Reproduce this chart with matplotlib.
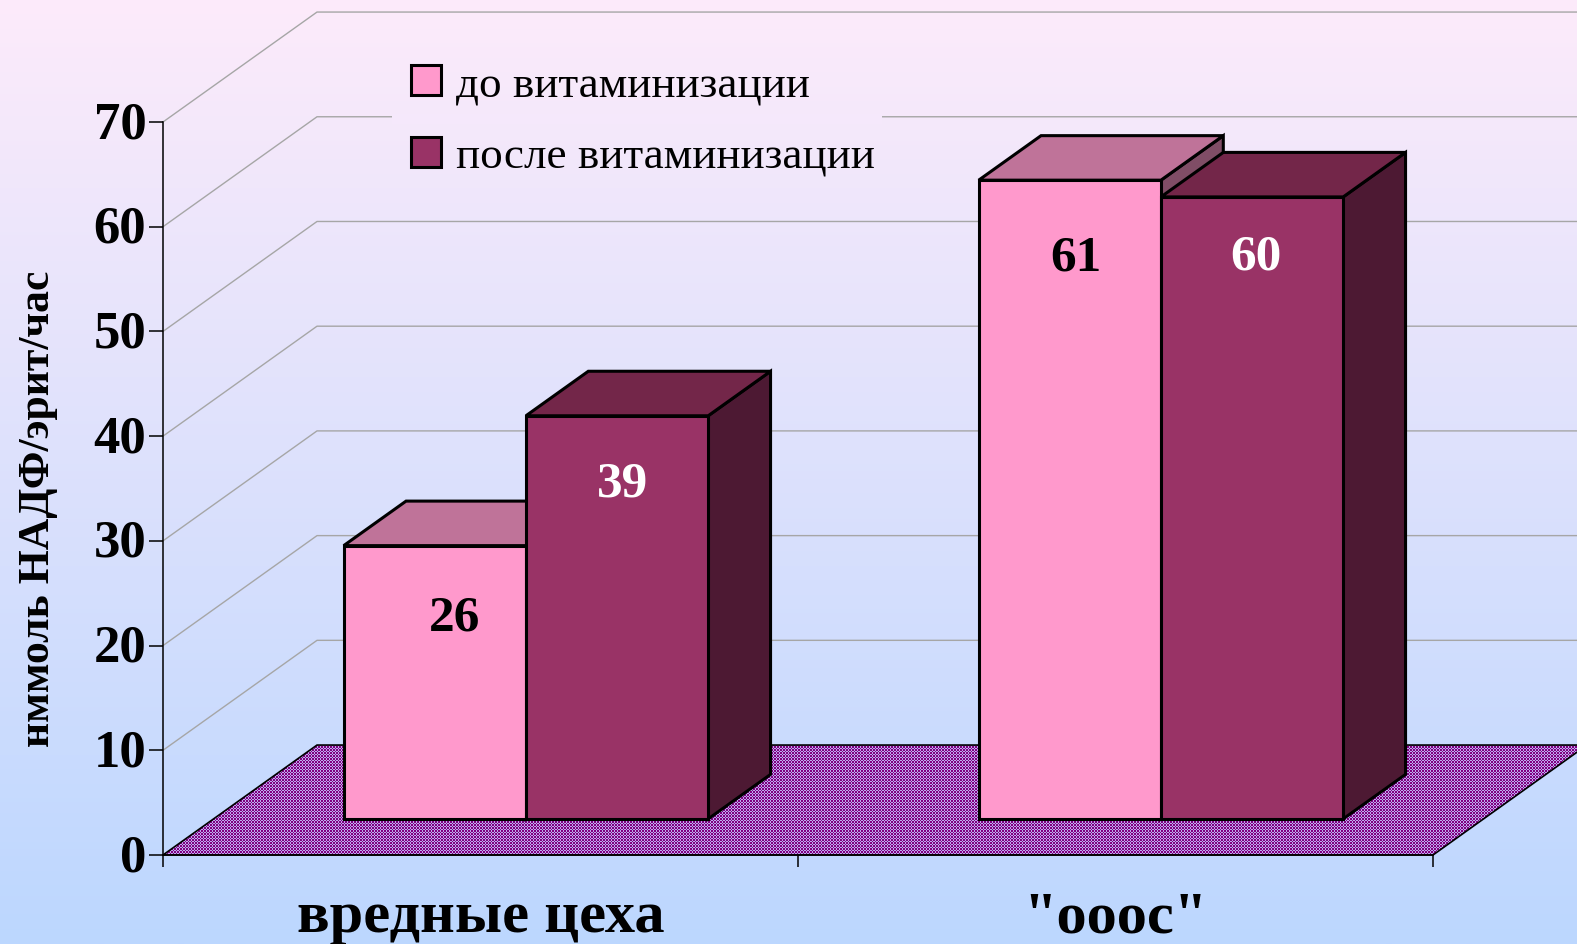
import numpy as np
import matplotlib
matplotlib.use('Agg')
import matplotlib.pyplot as plt
from matplotlib.patches import Polygon, Patch, Rectangle
from matplotlib.transforms import ScaledTranslation

categories = ['вредные цеха', '"ооос"']
series_names = ['до витаминизации', 'после витаминизации']
before = [26.1, 61.0]
after = [38.5, 59.4]
before_labels = ['26', '61']
after_labels = ['39', '60']
y_ticks = [0, 10, 20, 30, 40, 50, 60, 70]
y_label = 'нммоль НАДФ/эрит/час'

W, H = 1577, 945
DEPTH_X = 154 / 635
DEPTH_Y = 10.5
BAR_W = 0.287
D0, D1 = 0.328, 0.733
GROUP_SHIFT = -0.008

plt.rcParams['font.family'] = ['Liberation Serif', 'DejaVu Serif']


def project(x, y, d):
    return (x + d * DEPTH_X, y + d * DEPTH_Y)


def draw_box(ax, x0, value, colors, z):
    x1 = x0 + BAR_W
    front = [project(x0, 0, D0), project(x1, 0, D0), project(x1, value, D0), project(x0, value, D0)]
    top = [project(x0, value, D0), project(x1, value, D0), project(x1, value, D1), project(x0, value, D1)]
    side = [project(x1, 0, D0), project(x1, 0, D1), project(x1, value, D1), project(x1, value, D0)]
    for pts, c in zip([side, top, front], colors):
        ax.add_patch(Polygon(pts, closed=True, facecolor=c, edgecolor='black', lw=2.2,
                             joinstyle='miter', clip_on=False, zorder=z))


fig = plt.figure(figsize=(W / 100, H / 100), dpi=100)

# background gradient
bg = fig.add_axes([0, 0, 1, 1], zorder=-1)
top_c = np.array([253, 235, 250]) / 255
bot_c = np.array([188, 215, 255]) / 255
t = np.linspace(0, 1, H)[:, None, None]
bg.imshow(top_c[None, None, :] * (1 - t) + bot_c[None, None, :] * t, aspect='auto')
bg.axis('off')

ax = fig.add_axes([163 / W, 1 - 856 / H, 1270 / W, 733 / H])
ax.patch.set_visible(False)
ax.set_xlim(0, 2)
ax.set_ylim(0, 70)

# walls
for v in y_ticks[1:]:
    a = (0, v)
    b = project(0, v, 1)
    c = project(2, v, 1)
    ax.plot([a[0], b[0], c[0]], [a[1], b[1], c[1]], color='#a6a6a6', lw=1, clip_on=False, zorder=1)

# the legend breaks the back line of 60 in the original
gap_t = 120 / H
gap_c = top_c * (1 - gap_t) + bot_c * gap_t
fig.add_artist(Rectangle((392 / W, 1 - 125 / H), 490 / W, 10 / H, transform=fig.transFigure,
                         facecolor=gap_c, edgecolor='none', zorder=1.2))

# floor with dither pattern
floor_pts = [project(0, 0, 0), project(0, 0, 1), project(2, 0, 1), project(2, 0, 0)]
floor = Polygon(floor_pts, closed=True, facecolor='none', edgecolor='black', lw=1.2,
                clip_on=False, zorder=2)
ax.add_patch(floor)
tile = np.array([[1, 1, 0, 1, 1, 0],
                 [1, 1, 0, 1, 1, 0],
                 [0, 0, 1, 0, 0, 1],
                 [1, 1, 0, 1, 1, 0],
                 [1, 1, 0, 1, 1, 0],
                 [0, 0, 1, 0, 0, 1]])
mask = np.tile(tile, (H // 6 + 1, W // 6 + 1))[:H, :W]
pattern = np.zeros((H, W, 3))
pattern[mask == 1] = np.array([128, 0, 128]) / 255
pattern[mask == 0] = np.array([190, 170, 240]) / 255
inv = ax.transData.inverted()
x_left, y_bottom = inv.transform((0, 0))
x_right, y_top = inv.transform((W, H))
img = ax.imshow(pattern, extent=(x_left, x_right, y_bottom, y_top), aspect='auto',
                interpolation='nearest', zorder=1.5)
img.set_clip_path(floor)
img.set_clip_box(fig.bbox)
ax.set_xlim(0, 2)
ax.set_ylim(0, 70)

# bars
colors_a = ['#804d66', '#bf7399', '#ff99cc']
colors_b = ['#4d1933', '#732649', '#993366']
label_shift = [[(20, -72), (6, -68)], [(6, -77), (4, -60)]]
label_colors = ['black', 'white']
for i in range(len(categories)):
    center = i + 0.5 + GROUP_SHIFT
    draw_box(ax, center - BAR_W, before[i], colors_a, 3)
    draw_box(ax, center, after[i], colors_b, 3.5)
    bars = [(center - BAR_W, before[i], before_labels[i]), (center, after[i], after_labels[i])]
    for j, (x0, v, txt) in enumerate(bars):
        p = project(x0 + BAR_W / 2, v, D0)
        ax.annotate(txt, xy=p, xytext=label_shift[i][j], textcoords='offset pixels',
                    ha='center', va='center', fontsize=37, fontweight='bold',
                    color=label_colors[j], zorder=4)

# axes
for s in ['top', 'right']:
    ax.spines[s].set_visible(False)
ax.spines['left'].set_linewidth(1.1)
ax.spines['bottom'].set_linewidth(1.1)
ax.set_yticks(y_ticks)
ax.set_yticklabels([str(v) for v in y_ticks], fontsize=38, fontweight='bold')
ax.tick_params(axis='y', length=10, width=1.1, pad=2)
up = ScaledTranslation(0, 2.5 / 72, fig.dpi_scale_trans)
for lab in ax.get_yticklabels():
    lab.set_transform(lab.get_transform() + up)
ax.set_xticks([0, 1, 2])
ax.set_xticklabels(['', '', ''])
ax.tick_params(axis='x', which='major', length=8.5, width=1.1)
ax.set_xticks([0.5, 1.5], minor=True)
ax.set_xticklabels(categories, minor=True, fontsize=43.5, fontweight='bold')
ax.tick_params(axis='x', which='minor', length=0, pad=25.5)
ax.set_ylabel(y_label, fontsize=31.5, fontweight='bold', va='center')
ax.yaxis.set_label_coords(-0.0985, 0.473)

handles = [Patch(facecolor='#ff99cc', edgecolor='black', lw=2.2),
           Patch(facecolor='#993366', edgecolor='black', lw=2.2)]
leg = ax.legend(handles, series_names, loc='upper left', bbox_to_anchor=(411 / W, 1 - 66 / H),
                bbox_transform=fig.transFigure, borderaxespad=0, fontsize=32.5, frameon=False,
                handlelength=0.66, handleheight=0.66, handletextpad=0.33, labelspacing=0.7,
                borderpad=0)

fig.savefig('out.png', dpi=100)
